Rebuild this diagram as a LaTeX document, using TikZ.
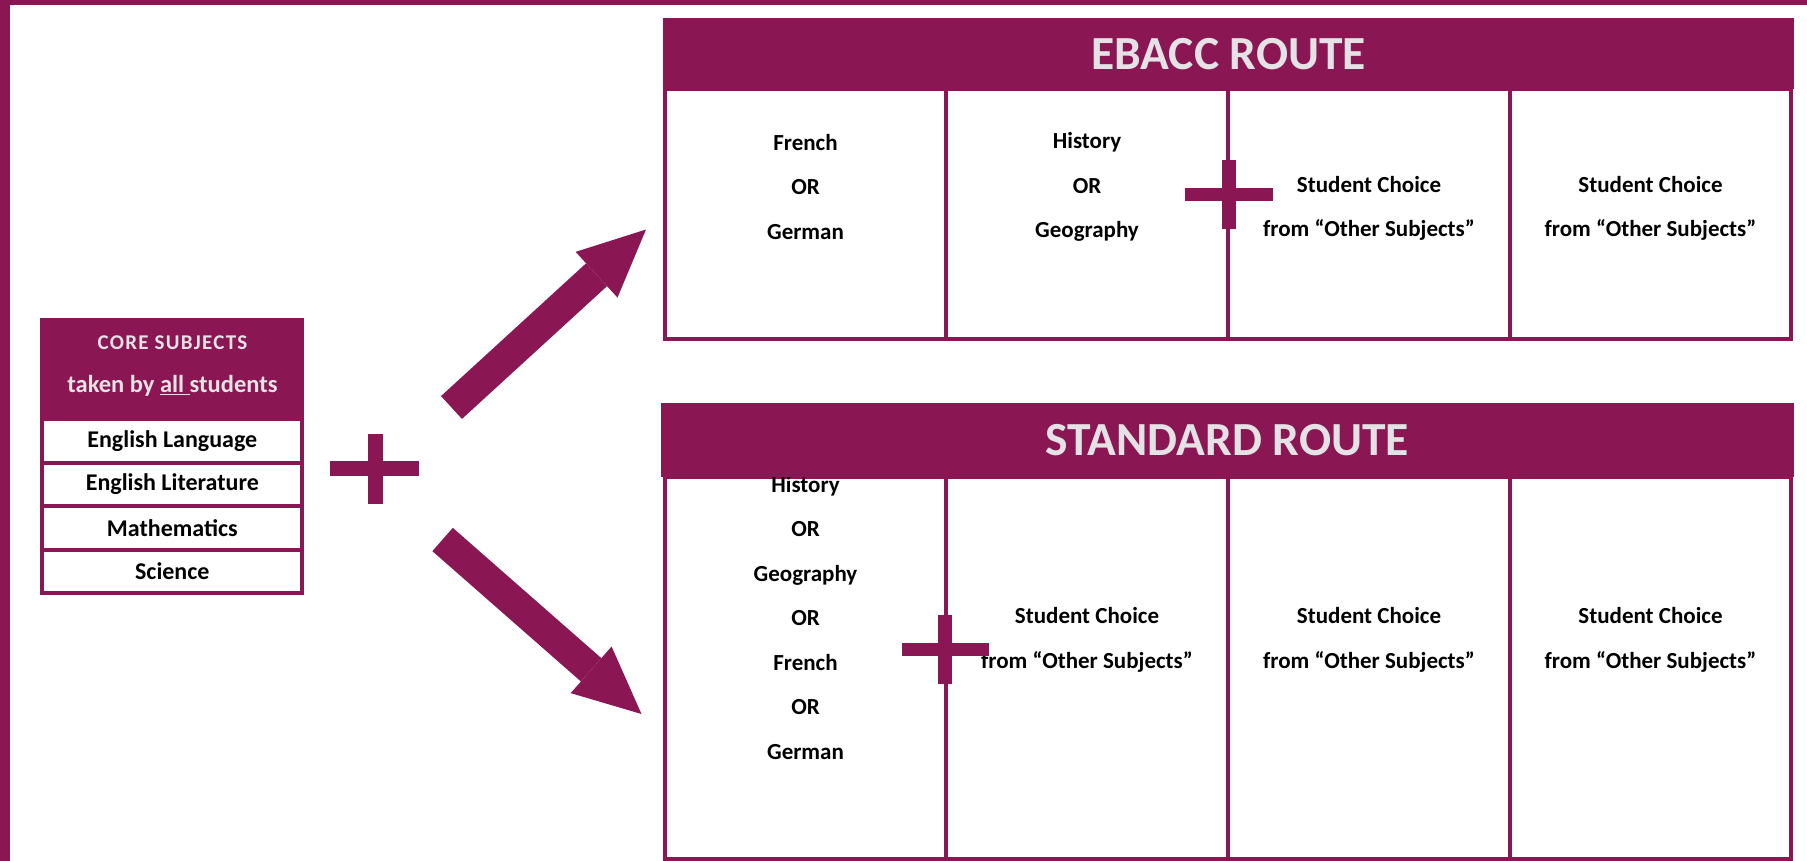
\documentclass[tikz,border=0pt]{standalone}
\usepackage{fontspec}
\setmainfont{Carlito}
\usetikzlibrary{arrows.meta}
\definecolor{plum}{RGB}{139,22,84}
\definecolor{palegrey}{RGB}{228,226,228}

\begin{document}
\begin{tikzpicture}[x=1pt,y=-1pt,
	cell/.style={rectangle,draw=plum,line width=4pt,fill=white,inner sep=0pt,minimum width=281.5pt},
	txt/.style={align=center,inner sep=0pt,font=\fontsize{23}{44.5}\selectfont\bfseries},
	head/.style={rectangle,fill=plum,inner sep=0pt,text=palegrey,font=\fontsize{47.5}{50}\selectfont\bfseries},
	row/.style={rectangle,draw=plum,line width=4pt,fill=white,inner sep=0pt,minimum width=260.3pt,minimum height=43.5pt,font=\fontsize{24}{26}\selectfont\bfseries},
	route/.style={plum,line width=31pt,-{Triangle[length=67pt,width=62pt,line width=0pt]}}]
	\useasboundingbox (0,0) rectangle (1807,861);
	
	% Draw frame
	\fill[plum] (0,0) rectangle (10,861);
	\fill[plum] (0,0) rectangle (1807,5);
	
	% Draw nodes, core subjects
	\node[rectangle,fill=plum,inner sep=0pt,minimum width=264.3pt,minimum height=102pt] (core) at (172.3,369) {};
	\node[text=palegrey,inner sep=0pt,font=\fontsize{21}{24}\selectfont\bfseries\addfontfeature{LetterSpace=6}] (coretitle) at (172.5,343) {CORE SUBJECTS};
	\node[text=palegrey,inner sep=0pt,font=\fontsize{24.5}{26}\selectfont\bfseries] (coresub) at (172.5,386) {taken by \underline{all\ }students};
	\node[row] (lang) at (172.3,441) {English Language};
	\node[row] (lit) at (172.3,484.5) {English Literature};
	\node[row] (maths) at (172.3,528) {Mathematics};
	\node[row] (sci) at (172.3,571.5) {Science};
	
	% Draw nodes, ebacc route
	\node[cell,minimum height=249pt] (e1) at (805.5,214) {};
	\node[cell,minimum height=249pt] (e2) at (1087,214) {};
	\node[cell,minimum height=249pt] (e3) at (1369,214) {};
	\node[cell,minimum height=249pt] (e4) at (1650.5,214) {};
	\node[txt] (frger) at (805.5,187) {French\\OR\\German};
	\node[txt] (hisgeo) at (1087,187) {History\\OR\\Geography};
	\node[txt] (echoice1) at (1369,208.5) {Student Choice\\from “Other Subjects”};
	\node[txt] (echoice2) at (1650.5,208.5) {Student Choice\\from “Other Subjects”};
	\node[head,minimum width=1130.6pt,minimum height=71.2pt] (ebacc) at (1228.7,53.9) {EBACC ROUTE};
	
	% Draw nodes, standard route
	\node[cell,minimum height=382pt] (s1) at (805.5,668) {};
	\node[cell,minimum height=382pt] (s2) at (1087,668) {};
	\node[cell,minimum height=382pt] (s3) at (1369,668) {};
	\node[cell,minimum height=382pt] (s4) at (1650.5,668) {};
	\node[txt] (anylang) at (805.5,618) {History\\OR\\Geography\\OR\\French\\OR\\German};
	\node[txt] (schoice1) at (1087,640) {Student Choice\\from “Other Subjects”};
	\node[txt] (schoice2) at (1369,640) {Student Choice\\from “Other Subjects”};
	\node[txt] (schoice3) at (1650.5,640) {Student Choice\\from “Other Subjects”};
	\node[head,minimum width=1133.3pt,minimum height=73.7pt] (standard) at (1227.4,440.2) {STANDARD ROUTE};
	
	% Draw plus signs
	\fill[plum] (330,461) rectangle (419,475.5);
	\fill[plum] (367.5,434) rectangle (382.5,503.5);
	\fill[plum] (1185,188) rectangle (1272.5,201);
	\fill[plum] (1222,160) rectangle (1235.5,229.5);
	\fill[plum] (901.5,643.3) rectangle (988.7,656);
	\fill[plum] (938,615) rectangle (952.3,684);
	
	% Draw arrows to the two routes
	\coordinate (up0) at (451.5,407.5);
	\coordinate (up1) at (646,229.5);
	\coordinate (dn0) at (442.6,539.5);
	\coordinate (dn1) at (641.5,714);
	\draw[route] (up0) -- (up1);
	\draw[route] (dn0) -- (dn1);
	
\end{tikzpicture}
\end{document}
